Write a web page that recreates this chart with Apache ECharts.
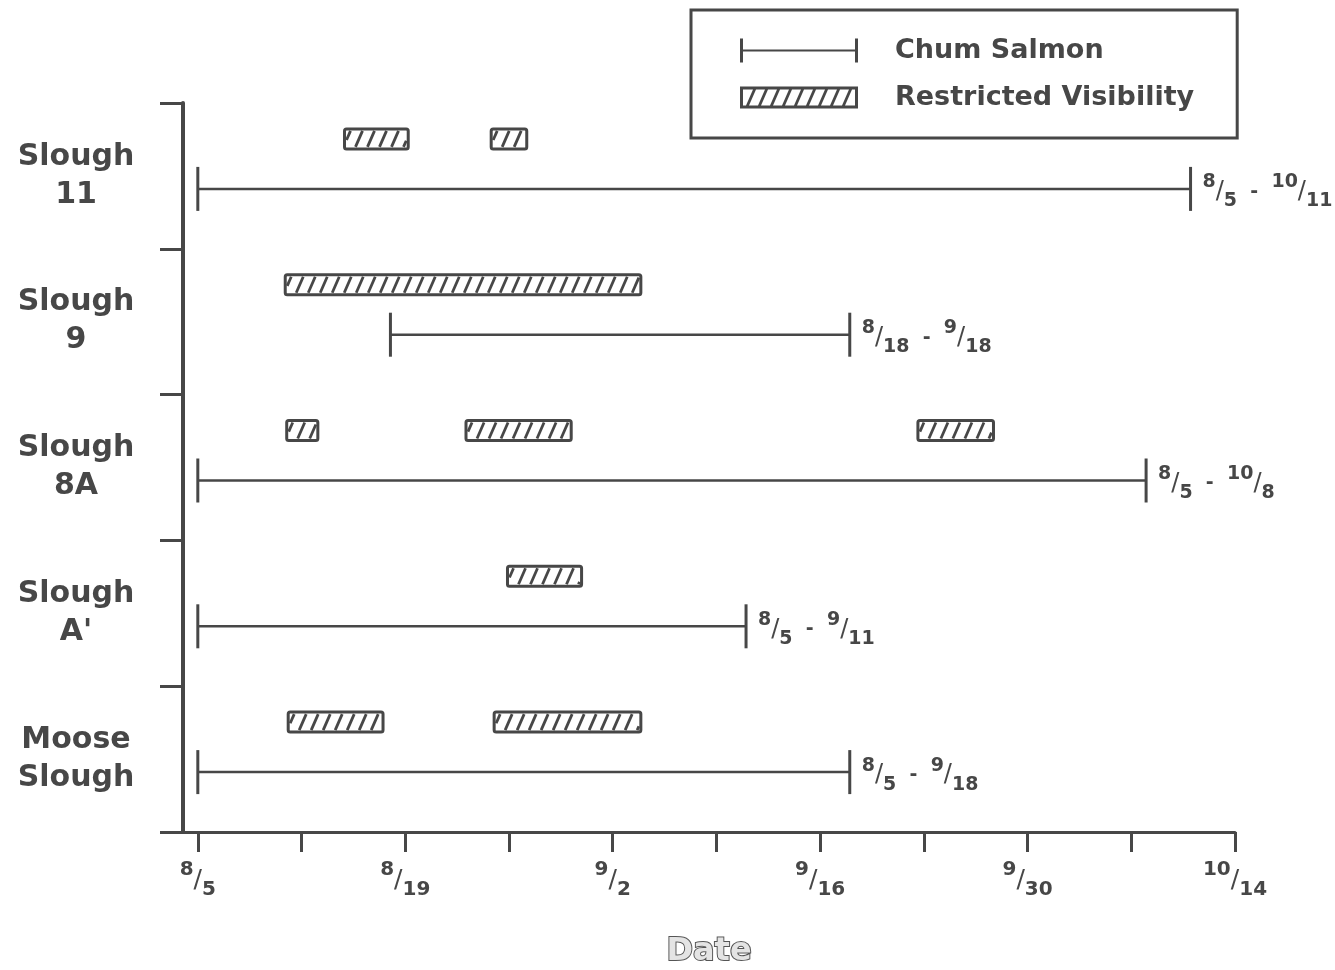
<!DOCTYPE html>
<html><head><meta charset="utf-8">
<script src="https://cdn.jsdelivr.net/npm/echarts@6/dist/echarts.min.js"></script>
<style>html,body{margin:0;padding:0;background:#fff}#c{width:1335px;height:970px}</style>
</head><body><div id="c"></div>
<script>
// ---- data ----
const sloughs = ['Slough\n11', 'Slough\n9', 'Slough\n8A', "Slough\nA'", 'Moose\nSlough'];
const chumStart = ['8/5', '8/18', '8/5', '8/5', '8/5'];
const chumEnd = ['10/11', '9/18', '10/8', '9/11', '9/18'];
// restricted visibility periods (days after 8/5)
const visSlough = [0, 0, 1, 2, 2, 2, 3, 4, 4];
const visStartDay = [9.9, 19.8, 5.9, 6.0, 18.1, 48.6, 20.9, 6.1, 20.0];
const visEndDay = [14.2, 22.2, 29.9, 8.1, 25.2, 53.7, 25.9, 12.5, 29.9];
const tickDates = ['8/5', '8/12', '8/19', '8/26', '9/2', '9/9', '9/16', '9/23', '9/30', '10/7', '10/14'];
const labelDates = ['8/5', '8/19', '9/2', '9/16', '9/30', '10/14'];

const C = '#474747';
const FONT = '"DejaVu Sans", sans-serif';

function dayOf(s) {
  const [m, d] = s.split('/').map(Number);
  return m === 8 ? d - 5 : (m === 9 ? 26 + d : 56 + d);
}
function frac(s) {
  return s.split(' - ').map(p => {
    const [a, b] = p.split('/');
    return '{n|' + a + '}{s|/}{d|' + b + '}';
  }).join('{m|  -  }');
}
function fracRich(sz) {
  return {
    n: {fontSize: sz, fontWeight: 'bold', fontFamily: FONT, color: C, lineHeight: sz, verticalAlign: 'top'},
    s: {fontSize: sz + 5, fontFamily: FONT, color: C, lineHeight: sz * 2, verticalAlign: 'middle'},
    d: {fontSize: sz, fontWeight: 'bold', fontFamily: FONT, color: C, lineHeight: sz, verticalAlign: 'bottom'},
    m: {fontSize: sz, fontWeight: 'bold', fontFamily: FONT, color: C, lineHeight: sz * 2, verticalAlign: 'middle'}
  };
}

const chumData = sloughs.map((s, i) => [i, dayOf(chumStart[i]), dayOf(chumEnd[i])]);
const visData = visSlough.map((s, i) => [s, visStartDay[i], visEndDay[i]]);

function renderRange(params, api) {
  const cat = api.value(0), s = api.value(1), e = api.value(2);
  const p0 = api.coord([s, cat]), p1 = api.coord([e, cat]);
  const y = p0[1] + 13, cap = 22;
  const i = params.dataIndex;
  return {type: 'group', children: [
    {type: 'line', shape: {x1: p0[0], y1: y, x2: p1[0], y2: y}, style: {stroke: C, lineWidth: 2.5}},
    {type: 'line', shape: {x1: p0[0], y1: y - cap, x2: p0[0], y2: y + cap}, style: {stroke: C, lineWidth: 3}},
    {type: 'line', shape: {x1: p1[0], y1: y - cap, x2: p1[0], y2: y + cap}, style: {stroke: C, lineWidth: 3}},
    {type: 'text', x: p1[0] + 12, y: y + 3, style: {
      text: frac(chumStart[i] + ' - ' + chumEnd[i]), rich: fracRich(19),
      align: 'left', verticalAlign: 'middle', fill: C}}
  ]};
}

function renderVis(params, api) {
  const cat = api.value(0), s = api.value(1), e = api.value(2);
  const p0 = api.coord([s, cat]), p1 = api.coord([e, cat]);
  const h = 20, yc = p0[1] - 37, top = yc - h / 2, bot = yc + h / 2;
  const x0 = p0[0], x1 = p1[0];
  const children = [{type: 'rect', shape: {x: x0, y: top, width: x1 - x0, height: h, r: 2},
    style: {fill: '#fff', stroke: C, lineWidth: 3}}];
  const slant = 7, step = 12, ins = 2;
  const yt = top + ins, yb = bot - ins, ix0 = x0 + ins, ix1 = x1 - ins;
  for (let xb = ix0 - slant + 4; xb < ix1; xb += step) {
    const t0 = Math.max(0, (ix0 - xb) / slant), t1 = Math.min(1, (ix1 - xb) / slant);
    if (t1 <= t0) continue;
    children.push({type: 'line', shape: {
      x1: xb + slant * t0, y1: yb + (yt - yb) * t0,
      x2: xb + slant * t1, y2: yb + (yt - yb) * t1}, style: {stroke: C, lineWidth: 2.8}});
  }
  return {type: 'group', children};
}

// legend icons
const capsIcon = 'path://M0,0 L3,0 L3,11 L115,11 L115,0 L118,0 L118,24 L115,24 L115,13 L3,13 L3,24 L0,24 Z';
let hatchIcon = 'path://M0,1 L118,1 L118,23 L0,23 Z M3,4 L3,20 L115,20 L115,4 Z';
for (let xb = 6; xb < 108; xb += 12) {
  hatchIcon += ' M' + xb + ',20 L' + (xb + 3) + ',20 L' + (xb + 10) + ',4 L' + (xb + 7) + ',4 Z';
}

const chart = echarts.init(document.getElementById('c'));
chart.setOption({
  backgroundColor: '#fff',
  animation: false,
  grid: {left: 183, right: 100, top: 103, bottom: 138, containLabel: false, outerBoundsMode: 'none'},
  legend: {
    left: 691, top: 10, orient: 'vertical', selectedMode: false,
    itemWidth: 118, itemHeight: 24, itemGap: 20,
    padding: [27, 43, 27, 49],
    borderColor: C, borderWidth: 3,
    textStyle: {fontSize: 27, fontWeight: 'bold', fontFamily: FONT, color: C, padding: [0, 0, 0, 32]},
    data: [{name: 'Chum Salmon', icon: capsIcon}, {name: 'Restricted Visibility', icon: hatchIcon}]
  },
  xAxis: {
    type: 'value', min: -1, max: 70,
    name: 'Date', nameLocation: 'middle', nameGap: 104,
    nameTextStyle: {fontSize: 32, fontWeight: 'bold', fontFamily: FONT, color: '#e4e4e4',
      textBorderColor: '#555', textBorderWidth: 2},
    axisLine: {show: true, onZero: false, lineStyle: {color: C, width: 3}},
    axisTick: {show: true, length: 20, lineStyle: {color: C, width: 3},
      customValues: tickDates.map(dayOf)},
    splitLine: {show: false},
    axisLabel: {
      customValues: labelDates.map(dayOf), margin: 28,
      formatter: v => frac(labelDates.find(d => dayOf(d) === v) || ''),
      rich: fracRich(20)
    }
  },
  yAxis: {
    type: 'category', inverse: true, data: sloughs, boundaryGap: true,
    axisLine: {show: true, onZero: false, lineStyle: {color: C, width: 4}},
    axisTick: {show: true, length: 23, lineStyle: {color: C, width: 3}},
    axisLabel: {align: 'center', margin: 107, fontSize: 30, lineHeight: 38,
      fontWeight: 'bold', fontFamily: FONT, color: C}
  },
  series: [
    {name: 'Chum Salmon', type: 'custom', renderItem: renderRange, data: chumData,
      encode: {x: [1, 2], y: 0}, itemStyle: {color: C}, clip: false},
    {name: 'Restricted Visibility', type: 'custom', renderItem: renderVis, data: visData,
      encode: {x: [1, 2], y: 0}, itemStyle: {color: C}, clip: false}
  ]
});
</script>
</body></html>
